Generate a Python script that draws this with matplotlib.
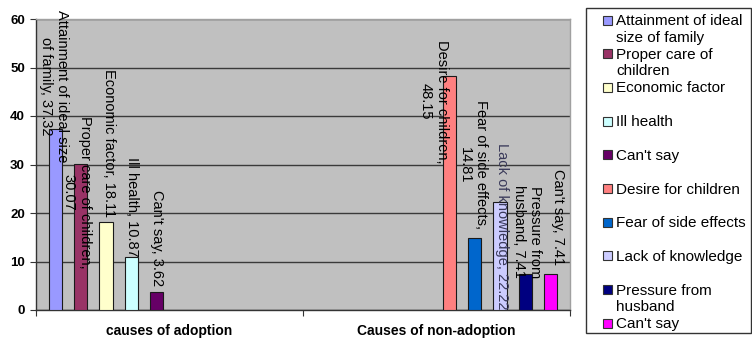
import textwrap
import numpy as np
import matplotlib
matplotlib.use("Agg")
import matplotlib.pyplot as plt
from matplotlib.patches import Rectangle

plt.rcParams['font.family'] = ['Liberation Sans', 'DejaVu Sans']

# data
categories = ['causes of adoption', 'Causes of non-adoption']
adoption_names = ['Attainment of ideal size of family', 'Proper care of children',
                  'Economic factor', 'Ill health', "Can't say"]
adoption_values = [37.32, 30.07, 18.11, 10.87, 3.62]
non_adoption_names = ['Desire for children', 'Fear of side effects',
                      'Lack of knowledge', 'Pressure from husband', "Can't say"]
non_adoption_values = [48.15, 14.81, 22.22, 7.41, 7.41]
y_ticks = [0, 10, 20, 30, 40, 50, 60]

colors = ['#9999FF', '#993366', '#FFFFCC', '#CCFFFF', '#660066',
          '#FF8080', '#0066CC', '#CCCCFF', '#000080', '#FF00FF']

# label layout: wrap width, x shift in pixels, centre height in data units
label_wrap = [24, 24, 40, 40, 40, 20, 21, 40, 13, 40]
label_dx = [-1, -4, 3, 1, 0, -15, -2, 2, 2, 7]
label_y = [46.2, 24.3, 34.5, 21.3, 14.8, 43.0, 29.9, 17.3, 16.1, 19.1]
legend_wrap = [19, 14, 40, 40, 40, 40, 40, 40, 13, 40]

names = adoption_names + non_adoption_names
values = adoption_values + non_adoption_values
group = [0] * len(adoption_values) + [1] * len(non_adoption_values)

fig = plt.figure(figsize=(7.52, 3.38), dpi=100)
ax = fig.add_axes([36 / 752, 28 / 338, 534 / 752, 291 / 338])
ax.set_facecolor('#C0C0C0')

step = 0.0951
width = 0.05
n = len(values)
for k in range(n):
    x = group[k] + (k - (n - 1) / 2) * step
    ax.bar(x, values[k], width=width, color=colors[k], edgecolor='#1a1a1a',
           linewidth=0.8, zorder=3)
    text = textwrap.fill(f"{names[k]}, {values[k]:.2f}", label_wrap[k])
    tcol = '#3a3a5a' if k == 7 else 'black'
    ax.annotate(text, xy=(x, label_y[k]), xytext=(label_dx[k], 0),
                textcoords='offset pixels', rotation=270, ha='center',
                va='center', multialignment='center', fontsize=10.5,
                color=tcol, zorder=4, annotation_clip=False)

ax.set_xlim(-0.5, 1.5)
ax.set_ylim(0, 60)
ax.set_yticks(y_ticks)
ax.set_yticklabels([str(t) for t in y_ticks], fontweight='bold', fontsize=9.5)
ax.set_xticks([-0.5, 0.5, 1.5])
ax.set_xticklabels([])
ax.set_xticks([0, 1], minor=True)
ax.set_xticklabels(categories, minor=True, fontweight='bold', fontsize=10)
ax.tick_params(axis='x', which='minor', length=0, pad=10)
ax.tick_params(axis='x', which='major', length=4, width=0.8, color='#333333')
ax.tick_params(axis='y', length=4, width=0.8, color='#333333', pad=4)

ax.set_axisbelow(True)
ax.yaxis.grid(True, color='#3a3a3a', linewidth=1.0)
for side in ['left', 'bottom']:
    ax.spines[side].set_color('#333333')
    ax.spines[side].set_linewidth(1.0)
for side in ['top', 'right']:
    ax.spines[side].set_color('#a0a0a0')
    ax.spines[side].set_linewidth(1.0)

# legend drawn in pixel coordinates of the figure
lg = fig.add_axes([0, 0, 1, 1])
lg.set_xlim(0, 752)
lg.set_ylim(338, 0)
lg.axis('off')
lg.add_patch(Rectangle((586, 8), 165, 325, facecolor='white',
                       edgecolor='#333333', linewidth=1.0))
for k in range(n):
    yc = 20 + 33.7 * k
    lg.add_patch(Rectangle((603, yc - 4.5), 9, 9, facecolor=colors[k],
                           edgecolor='#333333', linewidth=0.8))
    lg.text(616, yc - 6, textwrap.fill(names[k], legend_wrap[k]),
            fontsize=11, va='top', ha='left', linespacing=1.25)

fig.savefig('out.png', dpi=100)
